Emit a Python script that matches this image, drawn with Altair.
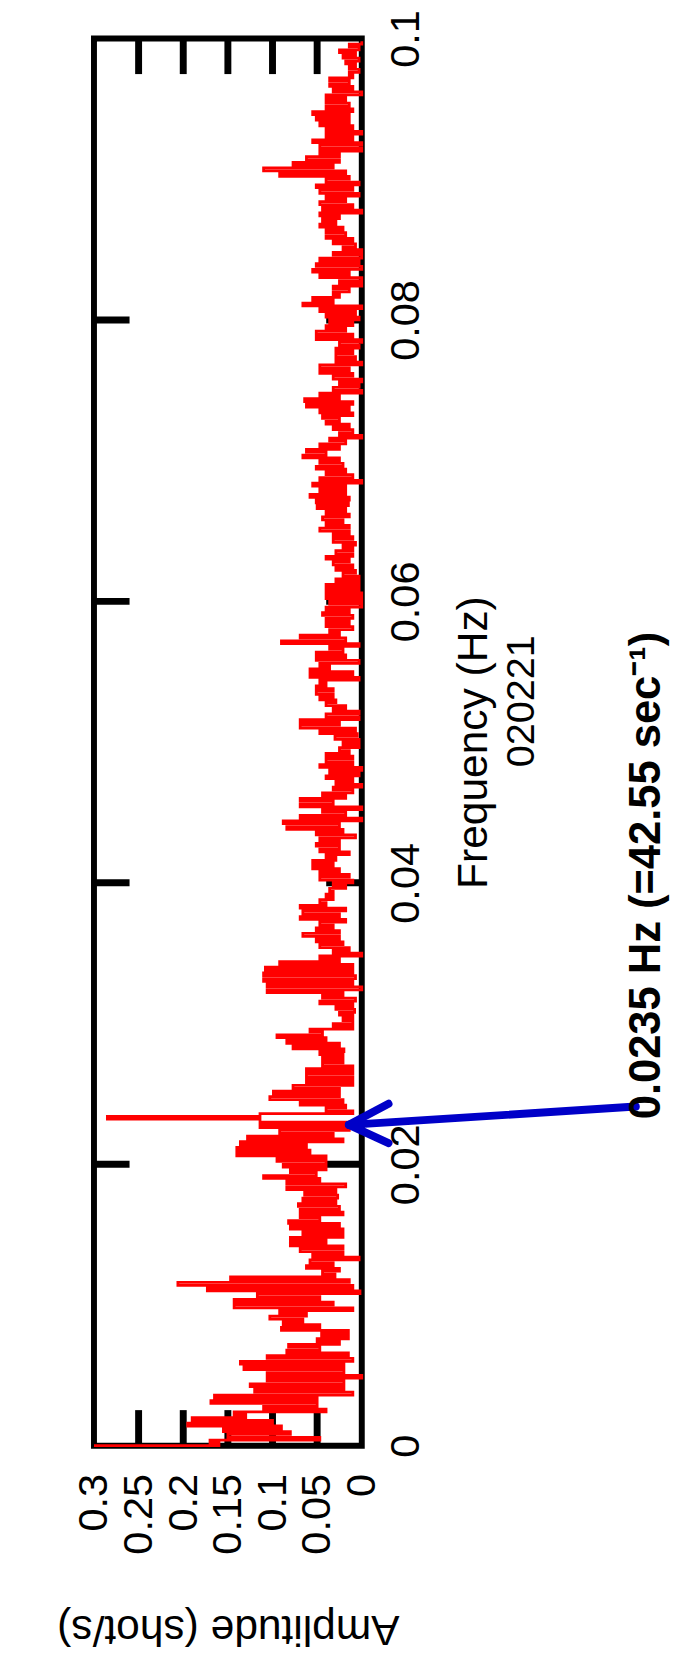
import altair as alt
import pandas as pd

amp_000_016 = [0.30,0.16, 0.17,0.047, 0.15,0.08, 0.155,0.09, 0.195,0.10, 0.19,0.13, 0.143,0.04, 0.11,0.05,
               0.169,0.05, 0.165,0.01, 0.12,0.02, 0.125,0.02, 0.106,0.0, 0.106,0.02, 0.132,0.02, 0.136,0.01,
               0.106,0.015, 0.084,0.047, 0.082,0.025, 0.05,0.015, 0.045,0.015, 0.09,0.047, 0.088,0.066, 0.103,0.062,
               0.092,0.01, 0.143,0.032, 0.143,0.047, 0.117,0.002, 0.173,0.01, 0.206,0.014, 0.147,0.03, 0.044,0.025,
               0.062,0.032, 0.058,0.003, 0.055,0.021, 0.069,0.021, 0.08,0.04, 0.08,0.021, 0.066,0.021, 0.08,0.025]
amp_016_033 = [0.082,0.047, 0.069,0.021, 0.069,0.025, 0.071,0.029, 0.066,0.027, 0.064,0.029, 0.084,0.018, 0.084,0.047,
               0.11,0.051, 0.08,0.04, 0.088,0.04, 0.095,0.04, 0.14,0.058, 0.14,0.062, 0.136,0.021, 0.128,0.032,
               0.092,0.014, 0.114,0.014, 0.114,0.285, 0.114,0.01, 0.04,0.018, 0.069,0.021, 0.103,0.025, 0.099,0.025,
               0.077,0.01, 0.062,0.01, 0.062,0.01, 0.062,0.01, 0.044,0.021, 0.044,0.021, 0.047,0.02, 0.077,0.025,
               0.084,0.04, 0.095,0.044, 0.058,0.01, 0.032,0.01, 0.021,0.01, 0.025,0.008, 0.029,0.01, 0.047,0.007,
               0.044,0.021, 0.106,0.0]
amp_033_050 = [0.106,0.01, 0.11,0.007, 0.11,0.01, 0.108,0.01, 0.092,0.025, 0.047,0.0, 0.032,0.014, 0.047,0.021,
               0.051,0.025, 0.066,0.025, 0.051,0.032, 0.047,0.018, 0.069,0.025, 0.066,0.018, 0.069,0.04, 0.047,0.032,
               0.04,0.032, 0.036,0.018, 0.032,0.01, 0.047,0.014, 0.047,0.025, 0.055,0.032, 0.055,0.029, 0.04,0.014,
               0.047,0.025, 0.051,0.025, 0.047,0.007, 0.051,0.021, 0.084,0.025, 0.088,0.0, 0.069,0.018, 0.044,0.0,
               0.069,0.032, 0.069,0.018, 0.044,0.01, 0.032,0.0, 0.029,0.01, 0.04,0.003, 0.036,0.0, 0.047,0.01,
               0.04,0.01, 0.04,0.014]
amp_050_067 = [0.025,0.003, 0.021,0.003, 0.03,0.005, 0.047,0.007, 0.069,0.025, 0.069,0.003, 0.04,0.003, 0.032,0.018,
               0.04,0.029, 0.047,0.032, 0.051,0.032, 0.051,0.04, 0.047,0.003, 0.058,0.01, 0.058,0.036, 0.047,0.003,
               0.051,0.018, 0.051,0.021, 0.036,0.003, 0.09,0.018, 0.069,0.025, 0.036,0.01, 0.04,0.014, 0.04,0.01,
               0.044,0.014, 0.04,0.0, 0.036,0.0, 0.04,0.0, 0.04,0.003, 0.04,0.003, 0.029,0.003, 0.021,0.007,
               0.029,0.01, 0.032,0.014, 0.04,0.01, 0.029,0.01, 0.021,0.007, 0.032,0.01, 0.032,0.014, 0.047,0.014,
               0.04,0.021, 0.044,0.014]
amp_067_084 = [0.04,0.018, 0.05,0.015, 0.051,0.014, 0.058,0.018, 0.047,0.018, 0.055,0.0, 0.047,0.01, 0.04,0.018,
               0.051,0.021, 0.047,0.025, 0.066,0.04, 0.062,0.025, 0.047,0.018, 0.036,0.0, 0.025,0.01, 0.032,0.014,
               0.04,0.025, 0.044,0.01, 0.047,0.014, 0.062,0.01, 0.064,0.025, 0.047,0.0, 0.032,0.003, 0.025,0.0,
               0.032,0.01, 0.047,0.014, 0.047,0.0, 0.029,0.007, 0.029,0.01, 0.029,0.003, 0.025,0.0, 0.051,0.01,
               0.051,0.018, 0.04,0.01, 0.036,0.003, 0.04,0.007, 0.047,0.0, 0.066,0.032, 0.055,0.025, 0.032,0.014,
               0.032,0.0, 0.025,0.0, 0.047,0.014]
amp_084_100 = [0.055,0.0, 0.051,0.003, 0.047,0.0, 0.032,0.0, 0.021,0.007, 0.032,0.01, 0.04,0.018, 0.04,0.021,
               0.047,0.029, 0.044,0.025, 0.047,0.0, 0.044,0.01, 0.047,0.018, 0.04,0.003, 0.047,0.01, 0.051,0.003,
               0.04,0.014, 0.092,0.018, 0.11,0.032, 0.077,0.025, 0.062,0.025, 0.047,0.0, 0.047,0.0, 0.055,0.01,
               0.04,0.0, 0.04,0.01, 0.047,0.014, 0.051,0.014, 0.055,0.01, 0.04,0.014, 0.04,0.018, 0.04,0.0,
               0.032,0.01, 0.036,0.014, 0.036,0.01, 0.014,0.003, 0.014,0.007, 0.018,0.003, 0.021,0.007, 0.025,0.003,
               0.014,0.0]

FREQ_STEP = 0.0002  # frequency resolution of the spectrum (Hz)
amplitude = amp_000_016 + amp_016_033 + amp_033_050 + amp_050_067 + amp_067_084 + amp_084_100
frequency = [round(i * FREQ_STEP, 5) for i in range(len(amplitude))]
spectrum = pd.DataFrame({"freq": frequency, "amp": amplitude})

amp_tick_values = [0.05, 0.1, 0.15, 0.2, 0.25]
freq_tick_values = [0.02, 0.04, 0.06, 0.08]
amp_label_values = [0, 0.05, 0.1, 0.15, 0.2, 0.25, 0.3]
freq_label_values = [0, 0.02, 0.04, 0.06, 0.08, 0.1]

title_text = "020221"
x_title = "Amplitude (shot/s)"
y_title = "Frequency (Hz)"
peak_note = "0.0235 Hz (=42.55 sec\u207b\u00b9)"

# annotation anchors in data units (amplitude, frequency)
note_pos = {"amp": [-0.3344], "freq": [0.0232], "text": [peak_note]}
title_pos = {"amp": [-0.193], "freq": [0.0529], "text": [title_text]}
arrow_segments = {
    "amp": [-0.307, -0.030, -0.030],
    "freq": [0.0241, 0.0243, 0.0215],
    "amp2": [0.0144, 0.0144, 0.0144],
    "freq2": [0.0228, 0.0228, 0.0228],
}

W, H = 271, 1424
TICK = 36
FONT = "Liberation Sans"

x_scale = alt.Scale(domain=[0, 0.3], reverse=True, nice=False, zero=False)
y_scale = alt.Scale(domain=[0, 0.1], nice=False, zero=False)

x_axis = alt.Axis(
    values=amp_label_values, format="~g", labelAngle=270, labelAlign="right",
    labelBaseline="middle", labelPadding=28, labelFontSize=42, labelFlush=False,
    labelOverlap=False, title=x_title, titleAngle=180, titleFontSize=43,
    titleFontWeight="normal", titleX=W / 2, titleY=172, titleAlign="center",
    titleBaseline="alphabetic",
)
y_axis = alt.Axis(
    orient="right", values=freq_label_values, format="~g", labelAngle=270,
    labelAlign="center", labelBaseline="top", labelPadding=24, labelFontSize=42,
    labelFlush=False, labelOverlap=False, title=y_title, titleAngle=270,
    titleFontSize=43, titleFontWeight="normal", titleX=126, titleY=H / 2,
    titleAlign="center", titleBaseline="alphabetic",
)

X = alt.X("amp:Q", scale=x_scale, axis=x_axis)
Y = alt.Y("freq:Q", scale=y_scale, axis=y_axis)

amp_ticks = pd.DataFrame({"amp": amp_tick_values})
freq_ticks = pd.DataFrame({"freq": freq_tick_values})

tick_style = dict(color="black", strokeWidth=7)
top_ticks = alt.Chart(amp_ticks).mark_rule(**tick_style).encode(
    x=X, y=alt.value(0), y2=alt.value(TICK))
bottom_ticks = alt.Chart(amp_ticks).mark_rule(**tick_style).encode(
    x=X, y=alt.value(H - TICK), y2=alt.value(H))
left_ticks = alt.Chart(freq_ticks).mark_rule(**tick_style).encode(
    y=Y, x=alt.value(0), x2=alt.value(TICK))
right_ticks = alt.Chart(freq_ticks).mark_rule(**tick_style).encode(
    y=Y, x=alt.value(W - TICK), x2=alt.value(W))

line = alt.Chart(spectrum).mark_line(
    color="#FF0000", strokeWidth=2.8, interpolate="step-after", clip=False
).encode(x=X, y=Y, order=alt.Order("freq:Q"))

arrow = alt.Chart(pd.DataFrame(arrow_segments)).mark_rule(
    color="#0000C8", strokeWidth=8, strokeCap="round"
).encode(x=X, x2="amp2:Q", y=Y, y2="freq2:Q")

note = alt.Chart(pd.DataFrame(note_pos)).mark_text(
    angle=270, align="left", baseline="alphabetic", font=FONT,
    fontWeight="bold", fontSize=44, color="black"
).encode(x=X, y=Y, text="text:N")

title_mark = alt.Chart(pd.DataFrame(title_pos)).mark_text(
    angle=270, align="center", baseline="alphabetic", font=FONT,
    fontSize=40, color="black"
).encode(x=X, y=Y, text="text:N")

chart = alt.layer(
    top_ticks, bottom_ticks, left_ticks, right_ticks, line, arrow, note, title_mark
).properties(
    width=W, height=H,
    autosize=alt.AutoSizeParams(type="none"),
    padding={"left": 87, "top": 21, "right": 320, "bottom": 208},
    background="white",
).configure_view(
    stroke="black", strokeWidth=6
).configure_axis(
    grid=False, domain=False, ticks=False, labelColor="black", titleColor="black",
    labelFont=FONT, titleFont=FONT,
)

chart.save("out.html", embed_options={"renderer": "svg", "actions": False})
